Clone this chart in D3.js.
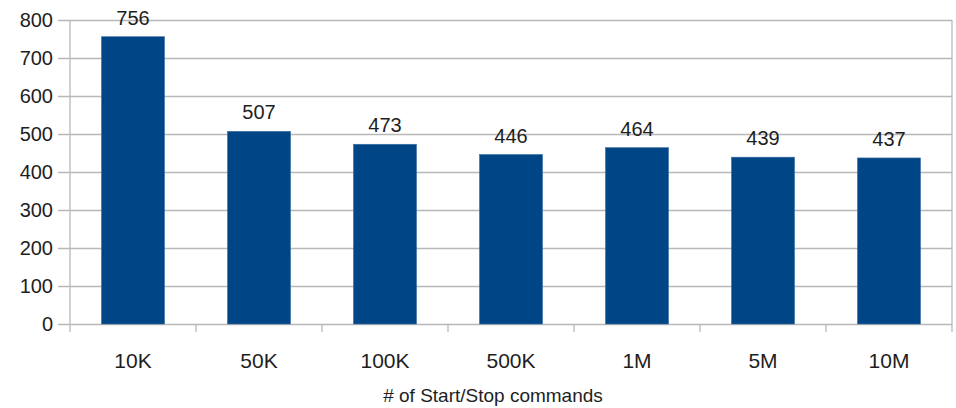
<!DOCTYPE html>
<html>
<head>
<meta charset="utf-8">
<script src="https://cdn.jsdelivr.net/npm/d3@7"></script>
<style>
  body { margin: 0; background: #fff; }
  text { font-family: "Liberation Sans", Arial, sans-serif; fill: #1e1e1e; }
</style>
</head>
<body>
<svg width="956" height="408"></svg>
<script>
const categories = ["10K", "50K", "100K", "500K", "1M", "5M", "10M"];
const values = [756, 507, 473, 446, 464, 439, 437];
const yTicks = [0, 100, 200, 300, 400, 500, 600, 700, 800];

const svg = d3.select("svg");
const margin = { top: 20, right: 4, bottom: 84, left: 70 };
const width = +svg.attr("width");
const height = +svg.attr("height");
const innerWidth = width - margin.left - margin.right;
const innerHeight = height - margin.top - margin.bottom;

const data = categories.map((c, i) => ({ cat: c, val: values[i] }));

const x = d3.scaleBand().domain(categories).range([0, innerWidth]).paddingInner(0.5).paddingOuter(0.25);
const y = d3.scaleLinear().domain([0, 800]).range([innerHeight, 0]);

const g = svg.append("g").attr("transform", `translate(${margin.left},${margin.top})`);

// 水平格線 + y 軸
const yAxis = d3.axisLeft(y).tickValues(yTicks).tickSize(-innerWidth - 12).tickPadding(6);
const yAxisG = g.append("g").call(yAxis);
yAxisG.select(".domain").remove();
yAxisG.selectAll(".tick line").attr("stroke", "#b8b8b8").attr("stroke-width", 1.3).attr("x1", -12).attr("x2", innerWidth);
yAxisG.selectAll(".tick text").attr("x", -17).attr("dy", "0.34em").attr("font-size", 20);

// 右側邊框
g.append("line").attr("x1", innerWidth).attr("x2", innerWidth).attr("y1", 0).attr("y2", innerHeight)
  .attr("stroke", "#b8b8b8").attr("stroke-width", 1.3);

// x 軸分隔刻度
const bounds = d3.range(categories.length + 1).map(i => i * x.step());
g.selectAll(".xsep").data(bounds).enter().append("line")
  .attr("x1", d => d).attr("x2", d => d)
  .attr("y1", (d, i) => i === 0 ? 0 : innerHeight)
  .attr("y2", innerHeight + 8)
  .attr("stroke", "#b8b8b8").attr("stroke-width", 1.3);

// 長條
g.selectAll("rect.bar").data(data).enter().append("rect")
  .attr("class", "bar")
  .attr("x", d => x(d.cat))
  .attr("y", d => y(d.val))
  .attr("width", x.bandwidth())
  .attr("height", d => innerHeight - y(d.val))
  .attr("fill", "#004586")
  .attr("stroke", "#3a6ea0").attr("stroke-width", 0.6);

// 數值標籤
g.selectAll("text.val").data(data).enter().append("text")
  .attr("class", "val")
  .attr("x", d => x(d.cat) + x.bandwidth() / 2)
  .attr("y", d => y(d.val) - 12)
  .attr("text-anchor", "middle")
  .attr("font-size", 20)
  .text(d => d.val);

// x 軸標籤
const xAxisG = g.append("g").attr("transform", `translate(0,${innerHeight})`)
  .call(d3.axisBottom(x).tickSize(0).tickPadding(0));
xAxisG.select(".domain").remove();
xAxisG.selectAll(".tick text").attr("y", 44).attr("dy", null).attr("font-size", 21);

// x 軸標題
svg.append("text")
  .attr("x", 493)
  .attr("y", 402)
  .attr("text-anchor", "middle")
  .attr("font-size", 19)
  .text("# of Start/Stop commands");
</script>
</body>
</html>
